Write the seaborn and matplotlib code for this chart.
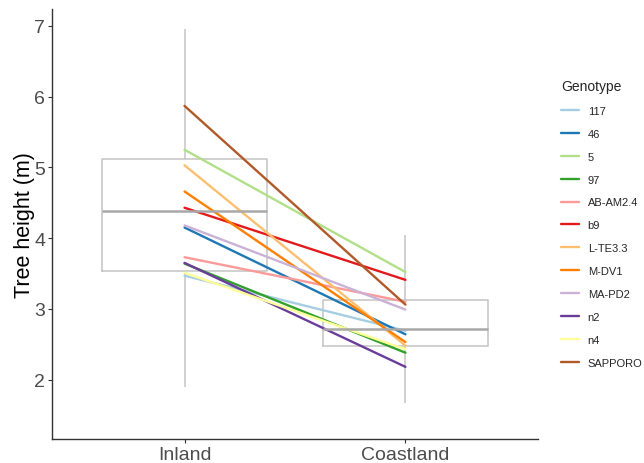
import matplotlib
matplotlib.use("Agg")
import matplotlib.pyplot as plt
import seaborn as sns
import pandas as pd

sites = ["Inland", "Coastland"]
genotypes = ["117", "46", "5", "97", "AB-AM2.4", "b9", "L-TE3.3", "M-DV1",
             "MA-PD2", "n2", "n4", "SAPPORO"]
inland_mean = [3.47, 4.15, 5.25, 3.64, 3.73, 4.43, 5.03, 4.66, 4.18, 3.65, 3.51, 5.87]
coast_mean = [2.69, 2.64, 3.52, 2.38, 3.10, 3.41, 2.48, 2.53, 2.99, 2.18, 2.43, 3.06]

# five-number summaries of the tree-level distribution per site
inland_box = [1.89, 3.53, 4.38, 5.12, 6.96]
coast_box = [1.67, 2.47, 2.71, 3.13, 4.05]

sns.set_theme(style="white")
plt.rcParams["font.family"] = ["Liberation Sans", "DejaVu Sans"]

box_df = pd.DataFrame({
    "Site": ["Inland"] * len(inland_box) + ["Coastland"] * len(coast_box),
    "Height": inland_box + coast_box,
})
line_df = pd.DataFrame({
    "Site": ["Inland"] * len(genotypes) + ["Coastland"] * len(genotypes),
    "Genotype": genotypes + genotypes,
    "Height": inland_mean + coast_mean,
})

fig = plt.figure(figsize=(6.44, 4.64), dpi=100)
ax = fig.add_axes([52 / 644, 1 - 440 / 464, (538 - 52) / 644, (440 - 10) / 464])

sns.boxplot(data=box_df, x="Site", y="Height", order=sites, ax=ax,
            fill=False, color="#C4C4C4", width=0.75, linewidth=1.1,
            showcaps=False, showfliers=False,
            medianprops=dict(color="#A8A8A8", linewidth=1.8))

palette = dict(zip(genotypes, sns.color_palette("Paired", 12)))
sns.lineplot(data=line_df, x="Site", y="Height", hue="Genotype",
             hue_order=genotypes, palette=palette, linewidth=1.7,
             ax=ax, legend=True, sort=False)

ax.set_xlim(-0.6, 1.6)
ax.set_ylim(1.16, 7.24)
ax.set_yticks([2, 3, 4, 5, 6, 7])
ax.set_xlabel("")
ax.set_ylabel("Tree height (m)", fontsize=15.5, color="black")
ax.yaxis.set_label_coords(-(52 - 35) / 486, 0.5)
ax.tick_params(axis="both", labelsize=14, labelcolor="#4D4D4D",
               color="#333333", length=3, width=0.8, left=True, bottom=True,
               pad=2)
for side in ["top", "right"]:
    ax.spines[side].set_visible(False)
for side in ["left", "bottom"]:
    ax.spines[side].set_color("#333333")
    ax.spines[side].set_linewidth(1.0)

handles, labels = ax.get_legend_handles_labels()
ax.get_legend().remove()
leg = fig.legend(handles, labels, title="Genotype", loc="upper left",
                 bbox_to_anchor=(551 / 644, 1 - 70 / 464), frameon=False,
                 fontsize=8, title_fontsize=10, handlelength=1.6,
                 handletextpad=0.8, labelspacing=1.16, alignment="left")
for h in leg.legend_handles:
    h.set_linewidth(1.7)

fig.savefig("out.png", dpi=100)
